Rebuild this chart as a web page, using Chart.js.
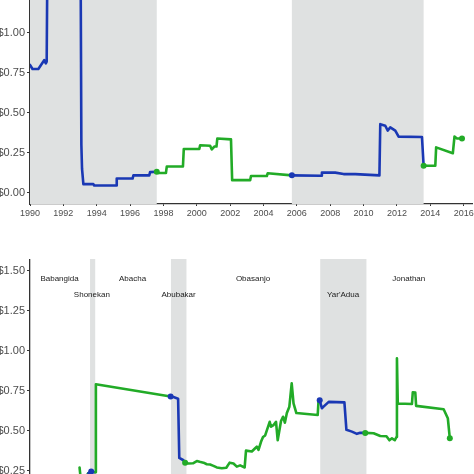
<!DOCTYPE html>
<html>
<head>
<meta charset="utf-8">
<title>Exchange rate by period</title>
<script src="https://cdn.jsdelivr.net/npm/chart.js@4/dist/chart.umd.min.js"></script>
<style>
  html, body { margin: 0; padding: 0; background: #fff; overflow: hidden; width: 474px; height: 474px; }
  canvas { position: absolute; left: 0; }
  #top-chart { top: 0; }
  #bottom-chart { top: 259px; }
</style>
</head>
<body>
<canvas id="top-chart" width="474" height="224"></canvas>
<canvas id="bottom-chart" width="474" height="283"></canvas>
<script>
// ---- data ----
var yearTicks = [1990, 1992, 1994, 1996, 1998, 2000, 2002, 2004, 2006, 2008, 2010, 2012, 2014, 2016];
var topPriceTicks = [0, 0.25, 0.5, 0.75, 1.0];
var bottomPriceTicks = [0, 0.25, 0.5, 0.75, 1.0, 1.25, 1.5];

// top panel
var topYears = [1990.0, 1990.15, 1990.5, 1990.85, 1990.95, 1991.0, 1991.05, 1993.03, 1993.08, 1993.12, 1993.2,
  1993.8, 1993.85, 1995.17, 1995.2, 1996.15, 1996.2, 1997.15, 1997.2, 1997.6, 1997.7, 1998.15, 1998.2,
  1999.17, 1999.22, 2000.15, 2000.2, 2000.8, 2000.9, 2001.05, 2001.18, 2001.23, 2002.05, 2002.12,
  2003.2, 2003.25, 2004.2, 2004.25, 2005.7, 2007.45, 2007.5, 2008.3, 2008.8, 2009.5, 2010.95, 2011.0,
  2011.3, 2011.45, 2011.6, 2011.9, 2012.1, 2013.5, 2013.6, 2014.3, 2014.35, 2015.35, 2015.45, 2015.6, 2015.9];
var topPrices = [0.80, 0.775, 0.775, 0.83, 0.81, 0.82, 1.55, 1.55, 0.30, 0.15, 0.055,
  0.055, 0.047, 0.047, 0.09, 0.09, 0.11, 0.11, 0.13, 0.133, 0.125, 0.125, 0.165,
  0.165, 0.275, 0.275, 0.298, 0.295, 0.272, 0.29, 0.29, 0.34, 0.335, 0.08,
  0.08, 0.106, 0.106, 0.123, 0.11, 0.108, 0.127, 0.127, 0.118, 0.118, 0.11, 0.43,
  0.42, 0.39, 0.41, 0.39, 0.352, 0.35, 0.17, 0.17, 0.285, 0.248, 0.352, 0.34, 0.34];
var topShade = [[1990, 1997.6], [2005.7, 2013.6]];
var topBlue = [[1990, 1997.6], [2005.7, 2013.6]];
var topDots = [1997.6, 2005.7, 2013.6, 2015.9];

// bottom panel
var bottomYears = [1992.97, 1993.02, 1993.4, 1993.5, 1993.67, 1993.9, 1993.95, 1998.43, 1998.6, 1998.88, 1998.95,
  1999.2, 1999.3, 1999.5, 1999.77, 2000.0, 2000.17, 2000.4, 2000.6, 2000.8, 2001.0, 2001.2, 2001.5,
  2001.77, 2001.97, 2002.2, 2002.4, 2002.6, 2002.87, 2002.95, 2003.3, 2003.5, 2003.6, 2003.7, 2003.85,
  2003.97, 2004.1, 2004.37, 2004.45, 2004.6, 2004.75, 2004.85, 2005.05, 2005.17, 2005.28, 2005.4, 2005.55,
  2005.69, 2005.8, 2005.97, 2006.6, 2007.25, 2007.3, 2007.37, 2007.5, 2007.6, 2007.91, 2008.85, 2008.97,
  2009.3, 2009.6, 2009.8, 2010.1, 2010.6, 2011.0, 2011.37, 2011.55, 2011.7, 2011.87, 2011.97, 2012.0,
  2012.05, 2012.9, 2012.95, 2013.1, 2013.15, 2014.8, 2015.05, 2015.17];
var bottomPrices = [0.27, 0.22, 0.22, 0.235, 0.244, 0.24, 0.79, 0.713, 0.71, 0.70, 0.33,
  0.315, 0.30, 0.295, 0.296, 0.31, 0.305, 0.30, 0.29, 0.288, 0.28, 0.27, 0.265,
  0.268, 0.30, 0.295, 0.275, 0.283, 0.27, 0.375, 0.37, 0.39, 0.40, 0.38, 0.43,
  0.46, 0.47, 0.555, 0.525, 0.535, 0.555, 0.44, 0.56, 0.587, 0.55, 0.61, 0.65,
  0.796, 0.67, 0.61, 0.604, 0.598, 0.69, 0.69, 0.64, 0.65, 0.68, 0.677, 0.505,
  0.494, 0.48, 0.487, 0.486, 0.484, 0.467, 0.465, 0.44, 0.452, 0.44, 0.46, 0.952,
  0.67, 0.667, 0.74, 0.738, 0.655, 0.634, 0.578, 0.452];
var bottomShade = [[1993.6, 1993.91], [1998.45, 1999.38], [2007.4, 2010.17]];
var bottomBlue = [[1993.5, 1993.9], [1998.43, 1999.3], [2007.37, 2010.1]];
var bottomDots = [1993.67, 1998.43, 1999.3, 2007.37, 2010.1, 2015.17];

var presidents = ['Babangida', 'Shonekan', 'Abacha', 'Abubakar', 'Obasanjo', "Yar'Adua", 'Jonathan'];
var presidentYears = [1991.77, 1993.71, 1996.15, 1998.91, 2003.37, 2008.77, 2012.71];
var presidentLevels = [1.448, 1.348, 1.448, 1.348, 1.448, 1.348, 1.448];

var BLUE = '#1a38b4';
var GREEN = '#22ab27';
var SHADE = '#dfe1e1';
var AXIS = '#333333';
var TEXT = '#4d4d4d';
var FONT = "'Liberation Sans', Arial, sans-serif";

function inRanges(x, ranges) {
  for (var i = 0; i < ranges.length; i++) {
    if (x >= ranges[i][0] && x <= ranges[i][1]) return true;
  }
  return false;
}

// gray period bands behind the line
var shadePlugin = {
  id: 'shade',
  beforeDatasetsDraw: function (chart, args, opts) {
    var ctx = chart.ctx, area = chart.chartArea, xs = chart.scales.x;
    ctx.save();
    ctx.fillStyle = SHADE;
    opts.ranges.forEach(function (r) {
      var x0 = xs.getPixelForValue(r[0]);
      var x1 = xs.getPixelForValue(r[1]);
      ctx.fillRect(x0, area.top, x1 - x0, area.bottom - area.top);
    });
    ctx.restore();
  }
};

// names of the presidents
var namesPlugin = {
  id: 'names',
  afterDatasetsDraw: function (chart, args, opts) {
    if (!opts.names) return;
    var ctx = chart.ctx;
    ctx.save();
    ctx.font = '8px ' + FONT;
    ctx.fillStyle = '#1a1a1a';
    ctx.textAlign = 'center';
    ctx.textBaseline = 'middle';
    opts.names.forEach(function (n, i) {
      ctx.fillText(n, chart.scales.x.getPixelForValue(opts.years[i]), chart.scales.y.getPixelForValue(opts.levels[i]));
    });
    ctx.restore();
  }
};

function makeChart(id, years, prices, blue, dots, shade, yMin, yMax, yTicks, names) {
  var points = years.map(function (x, i) { return { x: x, y: prices[i] }; });
  var colorAt = function (x) { return inRanges(x, blue) ? BLUE : GREEN; };
  return new Chart(document.getElementById(id), {
    type: 'line',
    data: {
      datasets: [{
        data: points,
        borderWidth: 2.6,
        borderJoinStyle: 'round',
        borderCapStyle: 'round',
        tension: 0,
        segment: {
          borderColor: function (c) { return colorAt((c.p0.parsed.x + c.p1.parsed.x) / 2); }
        },
        pointRadius: function (c) { return dots.indexOf(years[c.dataIndex]) >= 0 ? 3 : 0; },
        pointBackgroundColor: function (c) { return colorAt(years[c.dataIndex] + 0.01); },
        pointBorderWidth: 0
      }]
    },
    options: {
      responsive: false,
      animation: false,
      events: [],
      layout: { autoPadding: false, padding: { left: 0, right: 2, top: 0, bottom: 0 } },
      plugins: {
        legend: { display: false },
        tooltip: { enabled: false },
        shade: { ranges: shade },
        names: names || {}
      },
      scales: {
        x: {
          type: 'linear',
          min: 1990,
          max: 2016.5,
          afterBuildTicks: function (s) { s.ticks = yearTicks.map(function (v) { return { value: v }; }); },
          afterFit: function (s) { s.height = 20; s.paddingLeft = 0; s.paddingRight = 0; },
          grid: { drawOnChartArea: false, drawTicks: true, tickLength: 2, color: AXIS },
          border: { display: true, color: AXIS, width: 1.3 },
          ticks: {
            autoSkip: false, maxRotation: 0, padding: 2, color: TEXT,
            font: { family: FONT, size: 9 },
            callback: function (v) { return String(v); }
          }
        },
        y: {
          type: 'linear',
          min: yMin,
          max: yMax,
          afterBuildTicks: function (s) { s.ticks = yTicks.map(function (v) { return { value: v }; }); },
          afterFit: function (s) { s.width = 30; s.paddingTop = 0; s.paddingBottom = 0; },
          grid: { drawOnChartArea: false, drawTicks: true, tickLength: 3, color: AXIS },
          border: { display: true, color: AXIS, width: 1.3 },
          ticks: {
            padding: 2, color: TEXT,
            font: { family: FONT, size: 11 },
            callback: function (v) { return '$' + Number(v).toFixed(2); }
          }
        }
      }
    },
    plugins: [shadePlugin, namesPlugin]
  });
}

makeChart('top-chart', topYears, topPrices, topBlue, topDots, topShade, -0.069, 1.206, topPriceTicks, null);
makeChart('bottom-chart', bottomYears, bottomPrices, bottomBlue, bottomDots, bottomShade, -0.071, 1.573, bottomPriceTicks,
  { names: presidents, years: presidentYears, levels: presidentLevels });
</script>
</body>
</html>
